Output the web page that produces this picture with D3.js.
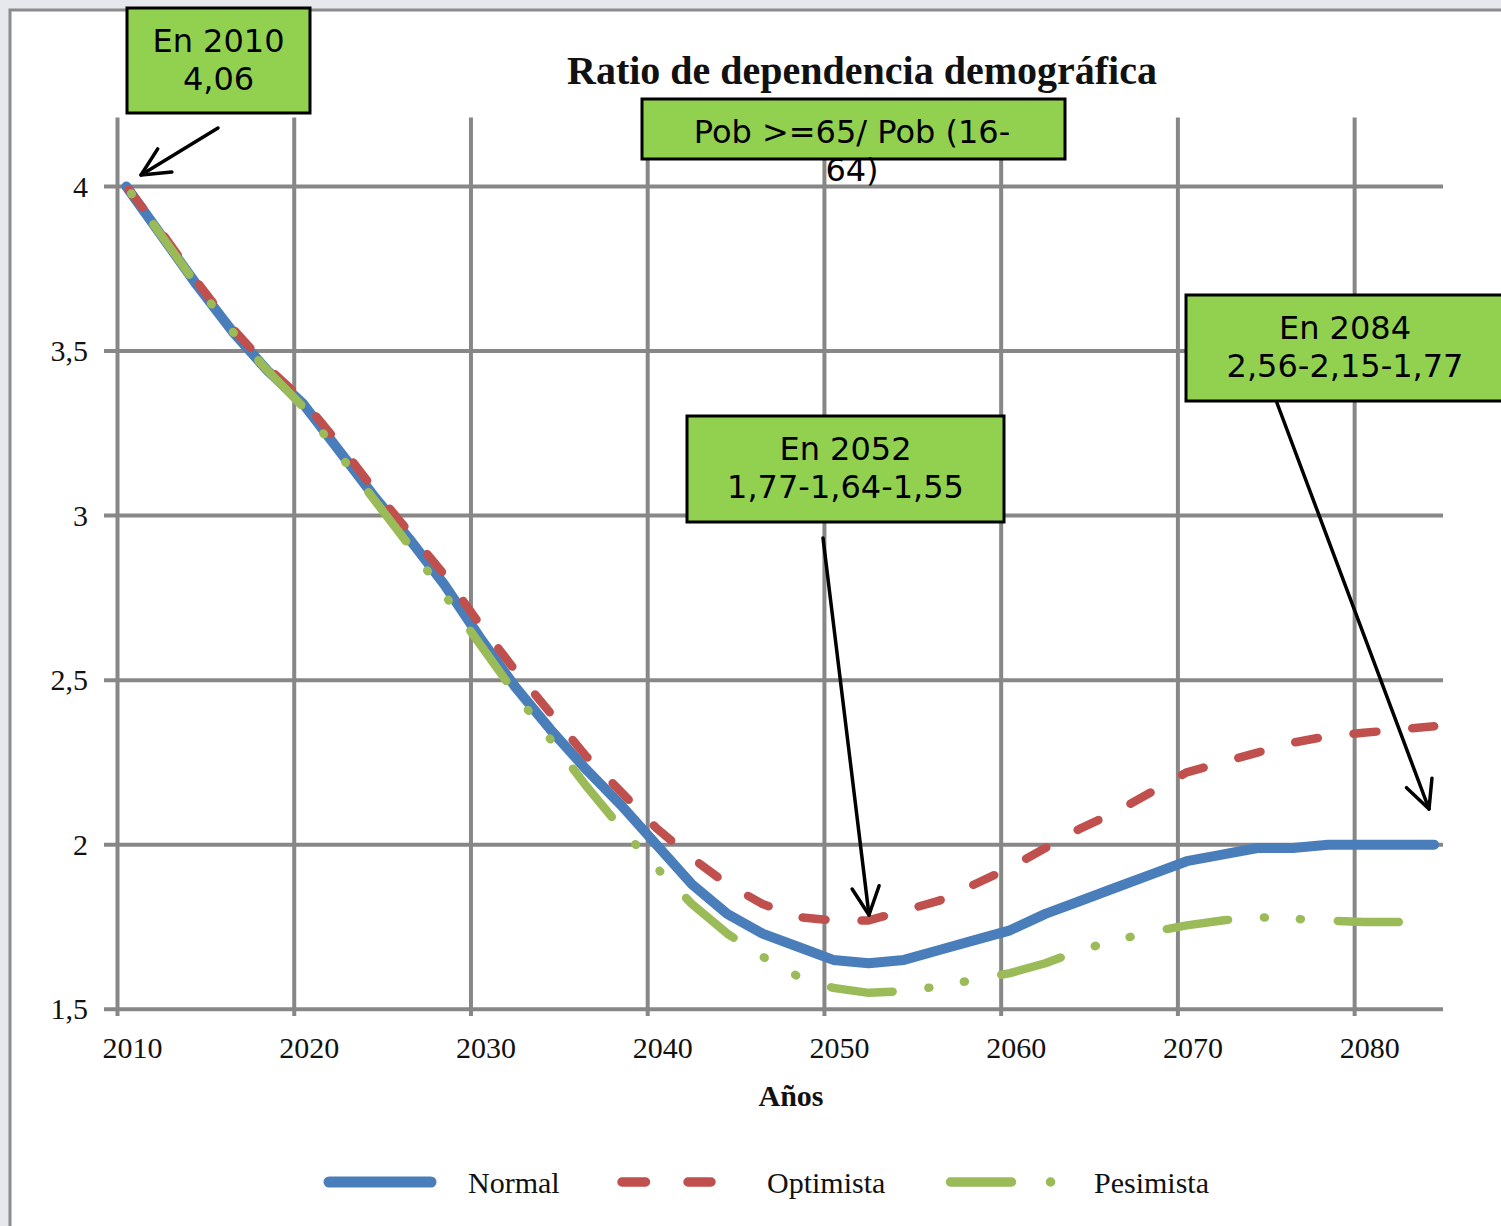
<!DOCTYPE html>
<html>
<head>
<meta charset="utf-8">
<script src="https://cdn.jsdelivr.net/npm/d3@7"></script>
<style>
  html, body { margin: 0; padding: 0; background: #e7e7ee; }
  svg { display: block; }
</style>
</head>
<body>
<svg id="chart" width="1501" height="1226"></svg>
<script>
// ---- data ---------------------------------------------------------------
const years = [2010, 2012, 2014, 2016, 2018, 2020, 2022, 2024, 2026, 2028,
               2030, 2032, 2034, 2036, 2038, 2040, 2042, 2044, 2046, 2048,
               2050, 2052, 2054, 2056, 2058, 2060, 2062, 2064, 2066, 2068,
               2070, 2072, 2074, 2076, 2078, 2080, 2082, 2084];

const normal = [4.00, 3.85, 3.70, 3.56, 3.44, 3.34, 3.20, 3.06, 2.93, 2.79,
                2.63, 2.48, 2.35, 2.23, 2.12, 2.00, 1.88, 1.79, 1.73, 1.69,
                1.65, 1.64, 1.65, 1.68, 1.71, 1.74, 1.79, 1.83, 1.87, 1.91,
                1.95, 1.97, 1.99, 1.99, 2.00, 2.00, 2.00, 2.00];

const optimista = [4.00, 3.86, 3.71, 3.57, 3.45, 3.35, 3.22, 3.08, 2.95, 2.82,
                   2.67, 2.53, 2.40, 2.27, 2.16, 2.05, 1.96, 1.88, 1.82, 1.78,
                   1.77, 1.77, 1.80, 1.83, 1.88, 1.93, 1.99, 2.05, 2.10, 2.16,
                   2.22, 2.25, 2.28, 2.31, 2.33, 2.34, 2.35, 2.36];

const pesimista = [4.00, 3.85, 3.70, 3.56, 3.44, 3.33, 3.19, 3.05, 2.91, 2.76,
                   2.61, 2.46, 2.32, 2.18, 2.05, 1.93, 1.82, 1.73, 1.66, 1.60,
                   1.565, 1.55, 1.555, 1.57, 1.59, 1.61, 1.64, 1.68, 1.71, 1.735,
                   1.755, 1.77, 1.78, 1.775, 1.77, 1.765, 1.765, null];

const seriesNames = ["Normal", "Optimista", "Pesimista"];
const yTicks = [1.5, 2, 2.5, 3, 3.5, 4];
const xTickYears = [2010, 2020, 2030, 2040, 2050, 2060, 2070, 2080];

const titleText = "Ratio de dependencia demográfica";
const xTitleText = "Años";

const calloutTexts = [
  ["En 2010", "4,06"],
  ["Pob >=65/ Pob (16-", "64)"],
  ["En 2052", "1,77-1,64-1,55"],
  ["En 2084", "2,56-2,15-1,77"]
];

// ---- styles -------------------------------------------------------------
const SERIF = "'Liberation Serif', 'Times New Roman', serif";
const SANS = "'DejaVu Sans', Verdana, sans-serif";
const GRID = "#878787";

const seriesStyle = [
  { color: "#4A7EBB", width: 10, dash: null },
  { color: "#C0504D", width: 8.5, dash: "23 36" },
  { color: "#9BBB59", width: 8.5, dash: "62 36 1 35 1 37" }
];

// ---- layout -------------------------------------------------------------
const svg = d3.select("#chart");

// one band per year on a category axis; points sit in the band centres
const x = d3.scaleBand()
  .domain(d3.range(2010, 2085))
  .range([117.5, 1443])
  .padding(0);
const xc = yr => x(yr) + x.bandwidth() / 2;

const y = d3.scaleLinear().domain([1.5, 4]).range([1009.3, 186.5]);
const plotTop = y(4.21);

// outer frame
svg.append("rect")
  .attr("x", 10).attr("y", 10)
  .attr("width", 1700).attr("height", 1400)
  .attr("fill", "#ffffff")
  .attr("stroke", "#8c8c8c")
  .attr("stroke-width", 3);

// gridlines
const grid = svg.append("g");
grid.selectAll("line.h").data(yTicks).join("line")
  .attr("class", "h")
  .attr("x1", 104).attr("x2", 1443)
  .attr("y1", d => y(d)).attr("y2", d => y(d))
  .attr("stroke", GRID).attr("stroke-width", 4);
grid.selectAll("line.v").data(xTickYears).join("line")
  .attr("class", "v")
  .attr("x1", d => x(d)).attr("x2", d => x(d))
  .attr("y1", plotTop).attr("y2", 1016)
  .attr("stroke", GRID).attr("stroke-width", 4);

// tick labels
const fmt = d => String(d).replace(".", ",");
svg.append("g").selectAll("text").data(yTicks).join("text")
  .attr("x", 88).attr("y", d => y(d) + 10)
  .attr("text-anchor", "end")
  .attr("font-family", SERIF).attr("font-size", 30)
  .attr("fill", "#111")
  .text(fmt);

svg.append("g").selectAll("text").data(xTickYears).join("text")
  .attr("x", d => x(d) + 15).attr("y", 1058)
  .attr("text-anchor", "middle")
  .attr("font-family", SERIF).attr("font-size", 30)
  .attr("fill", "#111")
  .text(d => d);

// series
const seriesValues = [normal, optimista, pesimista];
const line = d3.line()
  .defined(d => d.v != null)
  .x(d => xc(d.year))
  .y(d => y(d.v));

const lines = svg.append("g");
seriesValues.forEach((vals, i) => {
  const pts = years.map((yr, k) => ({ year: yr, v: vals[k] }));
  const st = seriesStyle[i];
  const p = lines.append("path")
    .datum(pts)
    .attr("d", line)
    .attr("fill", "none")
    .attr("stroke", st.color)
    .attr("stroke-width", st.width)
    .attr("stroke-linecap", "round")
    .attr("stroke-linejoin", "round");
  if (st.dash) {
    // phase the pattern so that the line finishes on the end of a dash
    const arr = st.dash.split(" ").map(Number);
    const period = d3.sum(arr);
    const len = p.node().getTotalLength();
    const off = (((arr[0] - 1 - len) % period) + period) % period;
    p.attr("stroke-dasharray", st.dash).attr("stroke-dashoffset", off);
  }
});

// axis title
svg.append("text")
  .attr("x", 791).attr("y", 1106)
  .attr("text-anchor", "middle")
  .attr("font-family", SERIF).attr("font-size", 30)
  .attr("font-weight", "bold")
  .attr("fill", "#111")
  .text(xTitleText);

// chart title
svg.append("text")
  .attr("x", 862).attr("y", 84)
  .attr("text-anchor", "middle")
  .attr("font-family", SERIF).attr("font-size", 40)
  .attr("font-weight", "bold")
  .attr("fill", "#111")
  .text(titleText);

// legend
const legendItems = [
  { x1: 329, x2: 431, dash: null, width: 11, tx: 468 },
  { x1: 622, x2: 711, dash: "23.5 42.5", width: 9.5, tx: 767 },
  { x1: 950.5, x2: 1051, dash: "61 39 0.1 200", width: 9.5, tx: 1094 }
];
const legend = svg.append("g");
legendItems.forEach((it, i) => {
  legend.append("line")
    .attr("x1", it.x1).attr("x2", it.x2)
    .attr("y1", 1182).attr("y2", 1182)
    .attr("stroke", seriesStyle[i].color)
    .attr("stroke-width", it.width)
    .attr("stroke-linecap", "round")
    .attr("stroke-dasharray", it.dash);
  legend.append("text")
    .attr("x", it.tx).attr("y", 1193)
    .attr("font-family", SERIF).attr("font-size", 30)
    .attr("fill", "#111")
    .text(seriesNames[i]);
});

// callout boxes
const calloutBoxes = [
  { x: 127, y: 8, w: 183, h: 105, cx: 218.5 },
  { x: 642, y: 99, w: 423, h: 60, cx: 852 },
  { x: 687, y: 416, w: 317, h: 106, cx: 845.5 },
  { x: 1186, y: 295, w: 318, h: 106, cx: 1345 }
];
const callouts = svg.append("g");
calloutBoxes.forEach(b => {
  callouts.append("rect")
    .attr("x", b.x).attr("y", b.y)
    .attr("width", b.w).attr("height", b.h)
    .attr("fill", "#92D050")
    .attr("stroke", "#000")
    .attr("stroke-width", 3);
});
calloutBoxes.forEach((b, i) => {
  calloutTexts[i].forEach((t, k) => {
    callouts.append("text")
      .attr("x", b.cx).attr("y", b.y + 44 + k * 38)
      .attr("text-anchor", "middle")
      .attr("font-family", SANS).attr("font-size", 32)
      .attr("fill", "#000")
      .text(t);
  });
});

// arrows from the callouts
const arrows = [
  { from: [218, 128], to: [141, 175] },
  { from: [823, 538], to: [869, 915] },
  { from: [1277, 403], to: [1429, 809] }
];
const arrowG = svg.append("g")
  .attr("stroke", "#000").attr("stroke-width", 3.5)
  .attr("fill", "none")
  .attr("stroke-linecap", "round").attr("stroke-linejoin", "round");
arrows.forEach(a => {
  const [fx, fy] = a.from, [tx, ty] = a.to;
  const ang = Math.atan2(fy - ty, fx - tx);
  const L = 31, spread = 26 * Math.PI / 180;
  const p1 = [tx + L * Math.cos(ang - spread), ty + L * Math.sin(ang - spread)];
  const p2 = [tx + L * Math.cos(ang + spread), ty + L * Math.sin(ang + spread)];
  arrowG.append("line")
    .attr("x1", fx).attr("y1", fy).attr("x2", tx).attr("y2", ty);
  arrowG.append("path")
    .attr("d", `M${p1[0]},${p1[1]}L${tx},${ty}L${p2[0]},${p2[1]}`);
});
</script>
</body>
</html>
